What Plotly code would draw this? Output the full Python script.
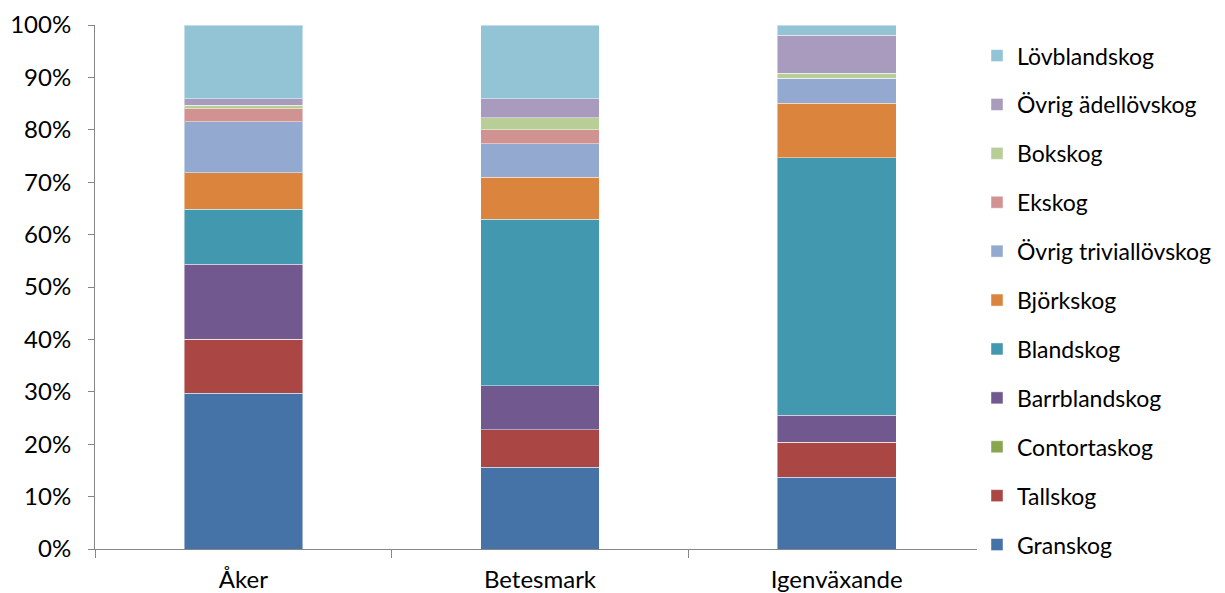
import plotly.graph_objects as go

categories = ["Åker", "Betesmark", "Igenväxande"]

series_names = ["Granskog", "Tallskog", "Contortaskog", "Barrblandskog", "Blandskog",
                "Björkskog", "Övrig triviallövskog", "Ekskog", "Bokskog",
                "Övrig ädellövskog", "Lövblandskog"]

granskog = [29.7, 15.6, 13.7]
tallskog = [10.3, 7.2, 6.7]
contortaskog = [0.0, 0.0, 0.0]
barrblandskog = [14.3, 8.4, 5.1]
blandskog = [10.5, 31.7, 49.2]
bjorkskog = [7.0, 8.0, 10.4]
ovrig_trivial = [9.7, 6.4, 4.7]
ekskog = [2.5, 2.7, 0.0]
bokskog = [0.7, 2.3, 1.0]
ovrig_adel = [1.2, 3.6, 7.2]
lovblandskog = [14.1, 14.1, 2.0]

series_values = [granskog, tallskog, contortaskog, barrblandskog, blandskog,
                 bjorkskog, ovrig_trivial, ekskog, bokskog, ovrig_adel, lovblandskog]

colors = ["#4572A7", "#AA4643", "#89A54E", "#71588F", "#4198AF", "#DB843D",
          "#93A9CF", "#D19392", "#B9CD96", "#A99BBD", "#92C4D6"]

y_tick_vals = [0, 10, 20, 30, 40, 50, 60, 70, 80, 90, 100]
y_tick_text = ["0%", "10%", "20%", "30%", "40%", "50%", "60%", "70%", "80%", "90%", "100%"]

FONT = "Lato, 'Open Sans', sans-serif"
FS = 23
FS_AX = 24

fig = go.Figure()
for i, (name, vals, col) in enumerate(zip(series_names, series_values, colors)):
    fig.add_trace(go.Bar(
        x=categories, y=vals, name=name, legendgroup=name,
        legendrank=1000 - i,
        marker=dict(color=col, line=dict(color="rgba(255,255,255,0.45)", width=1)),
    ))

# page body has an 8px default margin, so the figure is sized/offset to compensate
fig.update_layout(
    barmode="stack",
    bargap=0.6,
    width=1217, height=585,
    margin=dict(l=87, r=240, t=17, b=44, autoexpand=False),
    plot_bgcolor="white", paper_bgcolor="white",
    font=dict(family=FONT, size=FS, color="#000000"),
    legend=dict(
        traceorder="grouped", tracegroupgap=16,
        x=0.991, xanchor="left", y=0.475, yanchor="middle",
        font=dict(family=FONT, size=FS, color="#000000"),
        itemwidth=30, maxheight=585,
    ),
    showlegend=True,
)
fig.update_yaxes(
    range=[0, 100], tickvals=y_tick_vals, ticktext=y_tick_text,
    showgrid=False, zeroline=False, automargin=False,
    showline=True, linecolor="#868686", linewidth=1,
    ticks="outside", ticklen=6, tickcolor="#868686",
    ticklabelstandoff=12,
    tickfont=dict(family=FONT, size=FS_AX, color="#000000"),
)
fig.update_xaxes(
    showgrid=False, showline=True, linecolor="#868686", linewidth=1, automargin=False,
    ticks="outside", tickson="boundaries", ticklen=8, tickcolor="#868686",
    ticklabelstandoff=9,
    tickfont=dict(family=FONT, size=FS_AX, color="#000000"),
)

fig.write_html("out.html")
